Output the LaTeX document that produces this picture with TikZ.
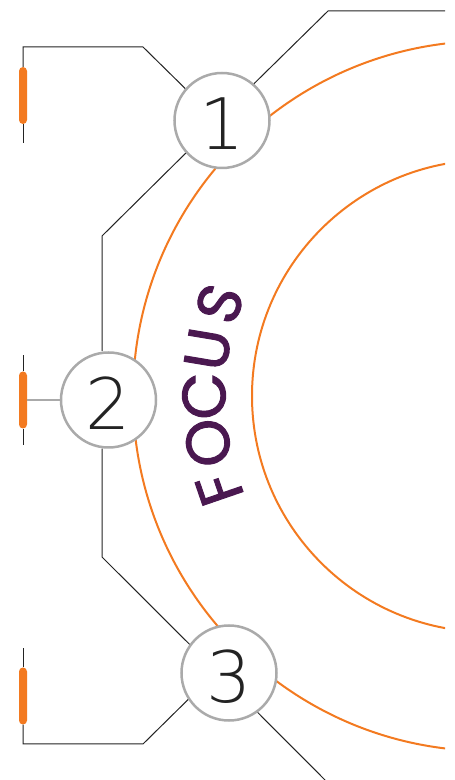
\documentclass[tikz,border=0pt]{standalone}
\usepackage{fontspec}
\newfontfamily\numfont{DejaVu Sans ExtraLight}
\newfontfamily\focusfont{Poppins}[FakeBold=1.6]
\definecolor{tangerine}{RGB}{243,122,32}
\definecolor{plum}{RGB}{74,24,80}
\definecolor{ash}{RGB}{170,170,170}
\definecolor{ink}{RGB}{35,35,35}
\tikzset{
  ring/.style={draw=tangerine,line width=2pt},
  stage/.style={circle,draw=ash,line width=2.5pt,fill=white,minimum size=95pt,inner sep=0pt,
    font=\numfont\fontsize{71}{71}\selectfont,text=ink,text height=59pt,text depth=0pt},
  lead/.style={draw=ink,line width=1pt},
  soft/.style={draw=ash,line width=1.5pt},
  marker/.style={fill=tangerine,rounded corners=4pt,minimum width=8pt,minimum height=57pt,inner sep=0pt},
  focus/.style={font=\focusfont\fontsize{61}{61}\selectfont,text=plum,inner sep=0pt},
}

\begin{document}
\begin{tikzpicture}[x=1pt,y=1pt]
  \useasboundingbox (0,0) rectangle (455,780);
  \clip (0,0) rectangle (445,780);
  % rings
  \coordinate (o) at (488,384);
  \draw[ring] (o) circle (355);
  \draw[ring] (o) circle (236);
  \foreach \ch/\ang in {F/199,O/189.5,C/180,U/170.5,S/161}
    \node[focus,rotate=\ang-90] at ([shift={(\ang:284)}]o) {\ch};
  % stages
  \node[stage] (c1) at (222,659.5) {1};
  \node[stage] (c2) at (108.5,380) {2};
  \node[stage] (c3) at (229,107) {3};
  \node[marker] (b1) at (23,684.5) {};
  \node[marker] (b2) at (23,380) {};
  \node[marker] (b3) at (23,84) {};
  \coordinate (t1) at (23,637);
  \coordinate (t2a) at (23,425);
  \coordinate (t2b) at (23,335);
  \coordinate (t3) at (23,132);
  \coordinate (k1) at (102,544);
  \coordinate (k2) at (102,223);
  \coordinate (e1) at (445,769);
  \coordinate (e3) at (335,-10);
  % leads
  \draw[lead] (c1.139) -- (143,733) -| (b1.north);
  \draw[lead] (b1.south) -- (t1);
  \draw[lead] (c1.49) -- (328,769) -- (e1);
  \draw[lead] (c1.222) -- (k1) -- (k1 |- c2.north);
  \draw[lead] (k2 |- c2.south) -- (k2) -- (c3.144);
  \draw[soft] (c2) -- (b2);
  \draw[lead] (b2.north) -- (t2a);
  \draw[lead] (b2.south) -- (t2b);
  \draw[lead] (c3.213) -- (143,36) -| (b3.south);
  \draw[lead] (b3.north) -- (t3);
  \draw[lead] (c3.306) -- (e3);
\end{tikzpicture}
\end{document}
